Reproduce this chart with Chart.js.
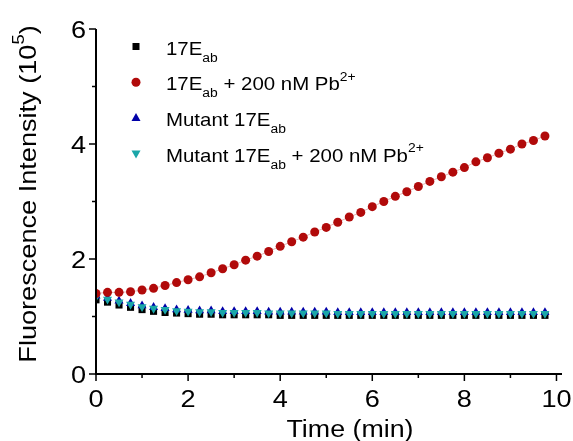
<!DOCTYPE html>
<html>
<head>
<meta charset="utf-8">
<script src="https://cdn.jsdelivr.net/npm/chart.js@4.4.0/dist/chart.umd.min.js"></script>
<style>
   html, body { margin: 0; padding: 0; background: #fff; }
   #wrap { width: 573px; height: 441px; }
</style>
</head>
<body>
<div id="wrap"><canvas id="myGraph"></canvas></div>
<script>
// time points (min)
const times = [0, 0.25, 0.5, 0.75, 1, 1.25, 1.5, 1.75, 2, 2.25, 2.5, 2.75, 3, 3.25, 3.5, 3.75,
   4, 4.25, 4.5, 4.75, 5, 5.25, 5.5, 5.75, 6, 6.25, 6.5, 6.75, 7, 7.25, 7.5, 7.75,
   8, 8.25, 8.5, 8.75, 9, 9.25, 9.5, 9.75];

// fluorescence (10^5)
const e17 = [1.29, 1.25, 1.20, 1.16, 1.12, 1.09, 1.07, 1.06, 1.05, 1.04, 1.04, 1.03, 1.03, 1.03, 1.03, 1.03,
   1.02, 1.02, 1.02, 1.02, 1.02, 1.02, 1.02, 1.02, 1.02, 1.02, 1.02, 1.02, 1.02, 1.02, 1.02, 1.02,
   1.02, 1.02, 1.02, 1.02, 1.02, 1.02, 1.02, 1.02];
const e17Pb = [1.40, 1.42, 1.42, 1.43, 1.46, 1.49, 1.54, 1.59, 1.64, 1.69, 1.76, 1.83, 1.90, 1.98, 2.05, 2.13,
   2.22, 2.30, 2.38, 2.47, 2.55, 2.64, 2.73, 2.81, 2.91, 3.00, 3.09, 3.17, 3.26, 3.35, 3.43, 3.51,
   3.59, 3.69, 3.76, 3.84, 3.91, 4.00, 4.06, 4.14];
const mut = [1.36, 1.32, 1.27, 1.23, 1.19, 1.16, 1.14, 1.12, 1.11, 1.10, 1.10, 1.09, 1.09, 1.09, 1.09, 1.08,
   1.08, 1.08, 1.08, 1.08, 1.08, 1.07, 1.07, 1.07, 1.07, 1.07, 1.07, 1.07, 1.07, 1.07, 1.07, 1.07,
   1.07, 1.07, 1.07, 1.07, 1.07, 1.07, 1.07, 1.07];
const mutPb = [1.34, 1.30, 1.25, 1.21, 1.17, 1.14, 1.12, 1.10, 1.09, 1.08, 1.08, 1.07, 1.07, 1.07, 1.07, 1.06,
   1.06, 1.06, 1.06, 1.06, 1.06, 1.05, 1.05, 1.05, 1.05, 1.05, 1.05, 1.05, 1.05, 1.05, 1.05, 1.05,
   1.05, 1.05, 1.05, 1.05, 1.05, 1.05, 1.05, 1.05];

const xTicks = [0, 1, 2, 3, 4, 5, 6, 7, 8, 9, 10];
const yTicks = [0, 1, 2, 3, 4, 5, 6];
const xLabels = ["0", "", "2", "", "4", "", "6", "", "8", "", "10"];
const yLabels = ["0", "", "2", "", "4", "", "6"];

const FONT = "'Liberation Sans', Arial, sans-serif";
const RED = "#B10A0A", BLUE = "#0000A8", CYAN = "#1AA6A8";

function pts(ys) {
   return times.map((t, i) => ({ x: t, y: ys[i] }));
}

// text pieces with sub / superscripts, stretched by sx along the line
function richWidth(ctx, parts, size, sx) {
   let w = 0;
   parts.forEach(p => {
      ctx.font = ((p.sub || p.sup) ? size * 0.68 : size) + "px " + FONT;
      w += ctx.measureText(p.t).width;
   });
   return w * sx;
}
function drawRich(ctx, parts, x, y, size, sx) {
   ctx.save();
   ctx.translate(x, y);
   ctx.scale(sx, 1);
   let cx = 0;
   parts.forEach(p => {
      let s = size, dy = 0;
      if (p.sub) { s = size * 0.68; dy = size * 0.37; }
      if (p.sup) { s = size * 0.68; dy = -size * 0.5; }
      ctx.font = s + "px " + FONT;
      ctx.fillText(p.t, cx, dy);
      cx += ctx.measureText(p.t).width;
   });
   ctx.restore();
}

function marker(ctx, style, x, y, color) {
   ctx.fillStyle = color;
   ctx.beginPath();
   if (style === "rect") {
      ctx.rect(x - 3.5, y - 3.5, 7, 7);
   } else if (style === "circle") {
      ctx.arc(x, y, 4.5, 0, Math.PI * 2);
   } else if (style === "up") {
      ctx.moveTo(x, y - 5); ctx.lineTo(x + 4.5, y + 3); ctx.lineTo(x - 4.5, y + 3);
   } else {
      ctx.moveTo(x, y + 5); ctx.lineTo(x + 4.5, y - 3); ctx.lineTo(x - 4.5, y - 3);
   }
   ctx.closePath();
   ctx.fill();
}

const decor = {
   id: "decor",
   afterDraw(chart) {
      const ctx = chart.ctx;
      const xs = chart.scales.x, ys = chart.scales.y;
      const a = chart.chartArea;
      ctx.save();
      ctx.strokeStyle = "#000";
      ctx.lineWidth = 2;
      // axes
      ctx.beginPath();
      ctx.moveTo(a.left, a.top); ctx.lineTo(a.left, a.bottom);
      ctx.moveTo(a.left - 1, a.bottom); ctx.lineTo(a.right, a.bottom);
      ctx.stroke();
      ctx.lineWidth = 1.5;
      ctx.beginPath();
      xTicks.forEach((v, i) => {
         const px = xs.getPixelForValue(v);
         ctx.moveTo(px, a.bottom); ctx.lineTo(px, a.bottom + (xLabels[i] ? 7 : 4));
      });
      yTicks.forEach((v, i) => {
         const py = ys.getPixelForValue(v);
         ctx.moveTo(a.left, py); ctx.lineTo(a.left - (yLabels[i] ? 7 : 4), py);
      });
      ctx.stroke();

      // tick labels
      ctx.fillStyle = "#000";
      ctx.textBaseline = "alphabetic";
      ctx.textAlign = "left";
      xTicks.forEach((v, i) => {
         const t = [{ t: xLabels[i] }];
         const w = richWidth(ctx, t, 24, 1.13);
         drawRich(ctx, t, xs.getPixelForValue(v) - w / 2, a.bottom + 33, 24, 1.13);
      });
      yTicks.forEach((v, i) => {
         const t = [{ t: yLabels[i] }];
         const w = richWidth(ctx, t, 24, 1.13);
         drawRich(ctx, t, a.left - 10 - w, ys.getPixelForValue(v) + 8.8, 24, 1.13);
      });

      // x title
      const xt = [{ t: "Time (min)" }];
      const xw = richWidth(ctx, xt, 23.5, 1.14);
      drawRich(ctx, xt, 350 - xw / 2, 437, 23.5, 1.14);

      // y title
      const yParts = [{ t: "Fluorescence Intensity (10" }, { t: "5", sup: true }, { t: ")" }];
      ctx.save();
      ctx.translate(36, 194);
      ctx.rotate(-Math.PI / 2);
      const yw = richWidth(ctx, yParts, 24, 1.13);
      drawRich(ctx, yParts, -yw / 2, 0, 24, 1.13);
      ctx.restore();

      // legend
      const rows = [
         { m: "rect", c: "#000", parts: [{ t: "17E" }, { t: "ab", sub: true }] },
         { m: "circle", c: RED, parts: [{ t: "17E" }, { t: "ab", sub: true }, { t: " + 200 nM Pb" }, { t: "2+", sup: true }] },
         { m: "up", c: BLUE, parts: [{ t: "Mutant 17E" }, { t: "ab", sub: true }] },
         { m: "down", c: CYAN, parts: [{ t: "Mutant 17E" }, { t: "ab", sub: true }, { t: " + 200 nM Pb" }, { t: "2+", sup: true }] }
      ];
      rows.forEach((r, i) => {
         const base = 54.5 + i * 35.7;
         marker(ctx, r.m, 136, base - 8, r.c);
         ctx.fillStyle = "#000";
         drawRich(ctx, r.parts, 166, base, 19, 1.075);
      });
      ctx.restore();
   }
};

new Chart(document.getElementById("myGraph").getContext("2d"), {
   type: "scatter",
   data: {
      datasets: [
         {
            label: "17Eab",
            data: pts(e17),
            pointStyle: "rect",
            pointRadius: 5,
            backgroundColor: "#000",
            borderWidth: 0,
            order: 3
         },
         {
            label: "17Eab + 200 nM Pb2+",
            data: pts(e17Pb),
            pointStyle: "circle",
            pointRadius: 4.5,
            backgroundColor: RED,
            borderColor: "rgba(190, 40, 40, 0.35)",
            borderWidth: 1,
            pointBorderWidth: 0,
            showLine: true,
            order: 0
         },
         {
            label: "Mutant 17Eab",
            data: pts(mut),
            pointStyle: "triangle",
            pointRadius: 5.2,
            backgroundColor: BLUE,
            borderWidth: 0,
            order: 2
         },
         {
            label: "Mutant 17Eab + 200 nM Pb2+",
            data: pts(mutPb),
            pointStyle: "triangle",
            rotation: 180,
            pointRadius: 5.2,
            backgroundColor: CYAN,
            borderWidth: 0,
            order: 1
         }
      ]
   },
   options: {
      animation: false,
      responsive: true,
      maintainAspectRatio: false,
      layout: { padding: { left: 0, right: 11, top: 29, bottom: 0 } },
      plugins: {
         legend: { display: false },
         tooltip: { enabled: false }
      },
      scales: {
         x: {
            type: "linear",
            min: 0,
            max: 10.12,
            afterBuildTicks: s => { s.ticks = xTicks.map(v => ({ value: v })); },
            afterFit: s => { s.height = 67; },
            grid: { display: false, drawTicks: false },
            border: { display: false },
            ticks: { display: false }
         },
         y: {
            min: 0,
            max: 6,
            afterBuildTicks: s => { s.ticks = yTicks.map(v => ({ value: v })); },
            afterFit: s => { s.width = 96; },
            grid: { display: false, drawTicks: false },
            border: { display: false },
            ticks: { display: false }
         }
      }
   },
   plugins: [decor]
});
</script>
</body>
</html>
